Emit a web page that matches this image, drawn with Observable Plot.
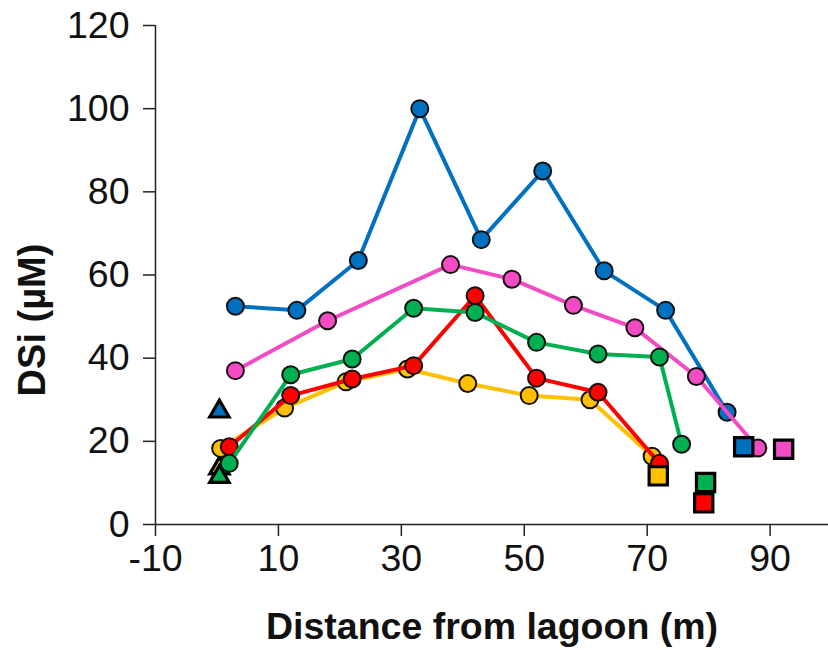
<!DOCTYPE html>
<html>
<head>
<meta charset="utf-8">
<script src="https://cdn.jsdelivr.net/npm/d3@7"></script>
<script src="https://cdn.jsdelivr.net/npm/@observablehq/plot@0.6"></script>
<style>
  html, body { margin: 0; padding: 0; background: #fff; }
  #chart svg { display: block; }
</style>
</head>
<body>
<div id="chart"></div>
<script>
// Series (circle transects)
const seriesNames = ["blue", "pink", "yellow", "red", "green"];

const blueDist = [3, 13, 23, 33, 43, 53, 63, 73, 83];
const blueDSi  = [52.5, 51.5, 63.5, 100, 68.5, 85, 61, 51.5, 27];

const pinkDist = [3, 18, 38, 48, 58, 68, 78, 88];
const pinkDSi  = [37, 49, 62.5, 59, 52.7, 47.3, 35.6, 18.4];

const yellowDist = [0.6, 11, 21, 31, 40.8, 50.8, 60.7, 70.8];
const yellowDSi  = [18.3, 28, 34.3, 37.4, 33.9, 31, 30, 16.4];

const redDist = [2, 12, 22, 32, 42, 52, 62, 72];
const redDSi  = [18.7, 31, 35, 38.2, 55, 35.2, 31.8, 14.7];

const greenDist = [2, 12, 22, 32, 42, 52, 62, 72, 75.6];
const greenDSi  = [14.7, 36, 39.8, 52, 51, 43.8, 41, 40.3, 19.3];

// Lagoon samples (triangles)
const triSeries = ["yellow", "blue", "green"];
const triDist   = [0.4, 0.4, 0.4];
const triDSi    = [13.5, 27.2, 11.5];

// Seawater samples (squares)
const sqSeries = ["yellow", "green", "red", "blue", "pink"];
const sqDist   = [71.8, 79.5, 79.2, 85.7, 92.2];
const sqDSi    = [11.7, 10.1, 5.2, 18.7, 18.1];

// Tick values
const xTicks = [-10, 10, 30, 50, 70, 90];
const yTicks = [0, 20, 40, 60, 80, 100, 120];

const palette = {
  blue: "#0070C0",
  pink: "#F24BC3",
  yellow: "#FFC000",
  red: "#FF0000",
  green: "#00B050"
};

const seriesData = {
  blue: [blueDist, blueDSi],
  pink: [pinkDist, pinkDSi],
  yellow: [yellowDist, yellowDSi],
  red: [redDist, redDSi],
  green: [greenDist, greenDSi]
};

const rows = s => seriesData[s][0].map((d, i) => ({s, x: d, y: seriesData[s][1][i]}));
const triRows = triSeries.map((s, i) => ({s, x: triDist[i], y: triDSi[i]}));
const sqRows = sqSeries.map((s, i) => ({s, x: sqDist[i], y: sqDSi[i]}));

const font = "'Liberation Sans', Arial, Helvetica, sans-serif";

const marks = [
  Plot.ruleX([-10], {stroke: "#222", strokeWidth: 1.5}),
  Plot.ruleY([0], {stroke: "#222", strokeWidth: 1.5}),
  Plot.axisX({ticks: xTicks, tickFormat: d => String(d), tickSize: 12, tickPadding: 8, fontSize: 37.5, stroke: "#222", strokeWidth: 1.5, label: null, color: "#111"}),
  Plot.axisY({ticks: yTicks, tickFormat: d => String(d), tickSize: 12, tickPadding: 14, fontSize: 37.5, stroke: "#222", strokeWidth: 1.5, label: null, color: "#111"})
];

// Triangles (lagoon) behind the transect lines
marks.push(Plot.dot(triRows, {
  x: "x", y: "y", symbol: "triangle", r: 7.2,
  fill: d => palette[d.s], stroke: "#000", strokeWidth: 3.2
}));

for (const s of seriesNames) {
  const data = rows(s);
  marks.push(Plot.line(data, {x: "x", y: "y", stroke: palette[s], strokeWidth: 4}));
  marks.push(Plot.dot(data, {x: "x", y: "y", r: 8.5, fill: palette[s], stroke: "#111", strokeWidth: 2}));
}

marks.push(Plot.dot(sqRows, {
  x: "x", y: "y", symbol: "square", r: 10.3,
  fill: d => palette[d.s], stroke: "#000", strokeWidth: 3.2
}));

marks.push(Plot.text(["Distance from lagoon (m)"], {
  frameAnchor: "bottom", dy: 102, fontSize: 37.5, fontWeight: "bold",
  textAnchor: "middle", lineAnchor: "middle", fill: "#111"
}));
marks.push(Plot.text(["DSi (µM)"], {
  frameAnchor: "left", dx: -123, dy: 45, rotate: -90, fontSize: 38, fontWeight: "bold",
  textAnchor: "middle", lineAnchor: "middle", fill: "#111"
}));

const chart = Plot.plot({
  width: 828,
  height: 650,
  marginLeft: 155,
  marginRight: 0,
  marginTop: 25,
  marginBottom: 126,
  style: {fontFamily: font, background: "#fff", overflow: "visible"},
  x: {domain: [-10, 99.5]},
  y: {domain: [0, 120]},
  marks
});

document.getElementById("chart").appendChild(chart);
</script>
</body>
</html>
